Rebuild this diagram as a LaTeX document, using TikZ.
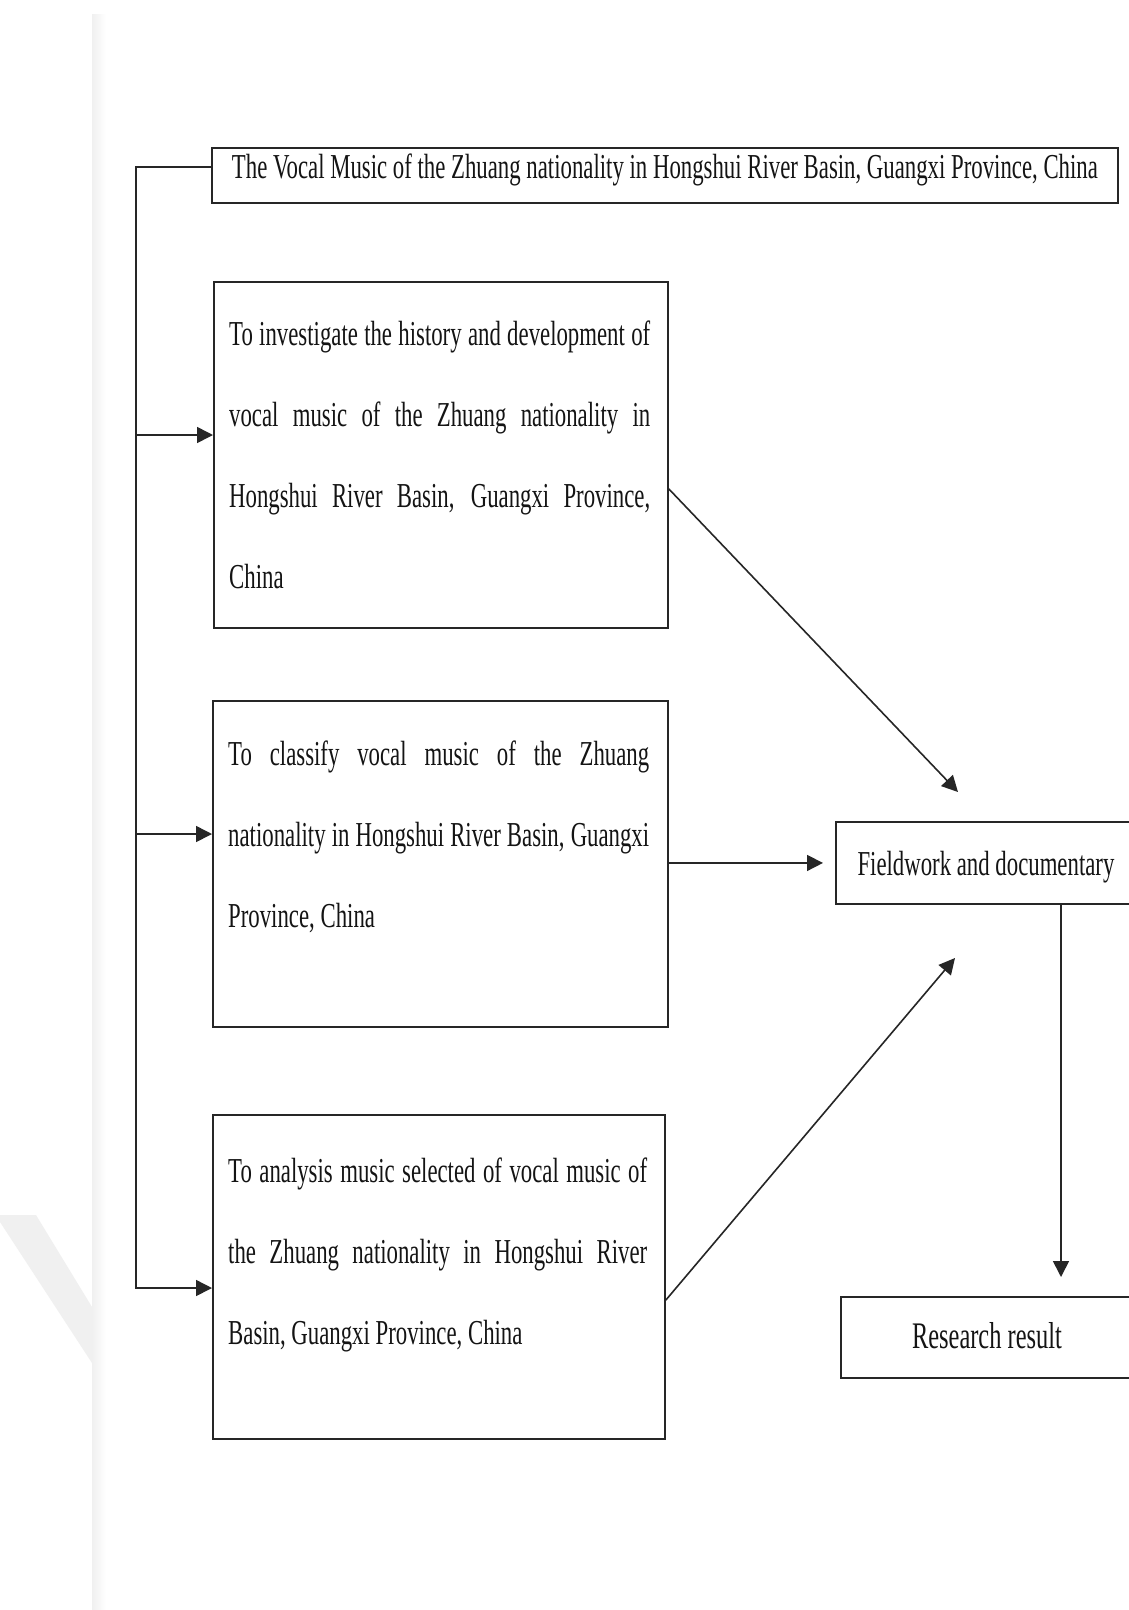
\documentclass[tikz,border=0pt]{standalone}
\usepackage{graphicx}
\usepackage{fontspec}
\setmainfont{Liberation Serif}
\usetikzlibrary{arrows.meta,calc}
\newcommand{\jl}[1]{\makebox[\linewidth][s]{#1}}
\newcommand{\boxtext}[2]{\scalebox{0.651}[1]{\begin{minipage}[t]{#1}\fontsize{35}{81}\selectfont #2\end{minipage}}}
\newcommand{\sq}[1]{\scalebox{0.651}[1]{\fontsize{35}{42}\selectfont #1}}
\begin{document}
\begin{tikzpicture}[x=1pt,y=-1pt,
  boxs/.style={draw=black!85, line width=1.9pt, rectangle, inner sep=0pt, anchor=north west, text=black!92},
  txt/.style={inner sep=0pt, anchor=base west, text=black!92},
  con/.style={draw=black!85, line width=1.6pt},
  arr/.style={con, -{Triangle[length=16pt,width=16pt]}}]
\useasboundingbox (0,0) rectangle (1129,1610);
\fill[white] (0,0) rectangle (1129,1610);
% page edge shading and faint watermark
\shade[left color=black!6, right color=white] (92,14) rectangle (106,1610);
\fill[black!6] (0,1215) -- (36,1215) -- (92,1307) -- (92,1363) -- (0,1222) -- cycle;

% boxes
\node[boxs, minimum width=906pt, minimum height=55pt, text height=15pt, text depth=9pt] (top) at (211,147)
  {\sq{The Vocal Music of the Zhuang nationality in Hongshui River Basin, Guangxi Province, China}};
\node[boxs, minimum width=454pt, minimum height=346pt] (b1) at (213,281) {};
\node[boxs, minimum width=455pt, minimum height=326pt] (b2) at (212,700) {};
\node[boxs, minimum width=452pt, minimum height=324pt] (b3) at (212,1114) {};
\node[boxs, minimum width=300pt, minimum height=82pt, text height=34pt, text depth=8pt] (field) at (835,821)
  {\sq{Fieldwork and documentary}\hspace{8pt}};
\node[boxs, minimum width=292pt, minimum height=81pt, text height=31pt, text depth=8pt] (research) at (840,1296)
  {\scalebox{0.651}[1]{\fontsize{37.5}{44}\selectfont Research result}};

% box texts
\node[txt] (t1) at (229,345) {\boxtext{646.7pt}{\jl{To investigate the history and development of}\\\jl{vocal music of the Zhuang nationality in}\\\jl{Hongshui River Basin, Guangxi Province,}\\China}};
\node[txt] (t2) at (228,765) {\boxtext{646.7pt}{\jl{To classify vocal music of the Zhuang}\\\jl{nationality in Hongshui River Basin, Guangxi}\\Province, China}};
\node[txt] (t3) at (228,1182) {\boxtext{643.6pt}{\jl{To analysis music selected of vocal music of}\\\jl{the Zhuang nationality in Hongshui River}\\Basin, Guangxi Province, China}};

% left rail
\coordinate (topjoin) at ($(top.north west)+(0,20)$);
\coordinate (railtop) at (136,167);
\coordinate (r1) at (136,435);
\coordinate (r2) at (136,834);
\coordinate (railbot) at (136,1288);
\draw[arr] (topjoin) -- (railtop) -- (railbot) -- (railbot -| b3.west);
\draw[arr] (r1) -- (r1 -| b1.west);
\draw[arr] (r2) -- (r2 -| b2.west);

% to fieldwork
\coordinate (d1s) at ($(b1.north east)+(0,208)$);
\coordinate (d1e) at (958,792);
\draw[arr] (d1s) -- (d1e);
\draw[arr, shorten >=12pt] (b2.east |- field.west) -- (field.west);
\coordinate (d3s) at ($(b3.north east)+(0,186)$);
\coordinate (d3e) at (955,958);
\draw[arr] (d3s) -- (d3e);

% to research result
\coordinate (dn) at ($(field.south west)+(226,0)$);
\draw[arr, shorten >=19pt] (dn) -- (dn |- research.north);
\end{tikzpicture}
\end{document}
